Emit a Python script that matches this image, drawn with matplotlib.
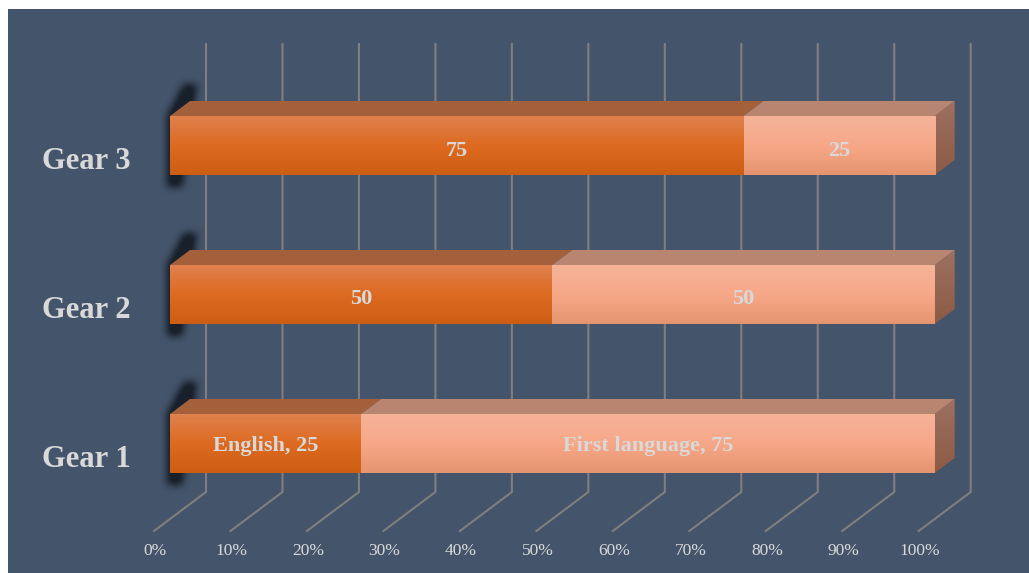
#!/usr/bin/env python3
import numpy as np
import matplotlib
matplotlib.use('Agg')
import matplotlib.pyplot as plt
from matplotlib.colors import LinearSegmentedColormap, to_rgb
from matplotlib.patches import Polygon

categories = ['Gear 1', 'Gear 2', 'Gear 3']
english = [25, 50, 75]
first_language = [75, 50, 25]
series_names = ['English', 'First language']
ticks = [0, 10, 20, 30, 40, 50, 60, 70, 80, 90, 100]

PANEL = '#44546A'
GRID = '#7F7F7F'
TEXT = '#D9D9D9'
DARK_STOPS = ['#E0814F', '#DD6A20', '#CC5E13']
LIGHT_STOPS = ['#F5B398', '#F7A888', '#E5946F']
DARK_TOP = '#A3603B'
LIGHT_TOP = '#B88670'
SIDE_STOPS = ['#9E7060', '#8C5B46']
SERIF = ['Liberation Serif', 'DejaVu Serif']

# scales: px per percent, px per category
PX_X = 7.647
PX_Y = 149.0
BAR_H = 59 / PX_Y
DX = 20 / PX_X
DY = 15 / PX_Y

fig = plt.figure(figsize=(10.29, 5.73), dpi=100, facecolor='white')
ax = fig.add_axes([8 / 1029, 0, 1021 / 1029, 564 / 573])
ax.set_facecolor(PANEL)
xlim = ((8 - 170) / PX_X, (1029 - 170) / PX_X)
ylim = ((443.5 - 573) / PX_Y, (443.5 - 9) / PX_Y)
for s in ax.spines.values():
    s.set_visible(False)
ax.set_xticks([])
ax.set_yticks([])


def gradient(stops, x0, x1, y0, y1, clip=None, z=3):
    cmap = LinearSegmentedColormap.from_list('g', stops)
    im = ax.imshow(np.linspace(0, 1, 128).reshape(-1, 1), cmap=cmap, aspect='auto',
                   extent=(x0, x1, y0, y1), origin='upper', zorder=z, interpolation='bilinear')
    if clip is not None:
        patch = Polygon(clip, closed=True, transform=ax.transData, fc='none', ec='none')
        ax.add_patch(patch)
        im.set_clip_path(patch)
    return im


def blur(a, n):
    k = np.hanning(n)
    k = k / k.sum()
    a = np.apply_along_axis(lambda r: np.convolve(r, k, mode='same'), 0, a)
    return np.apply_along_axis(lambda r: np.convolve(r, k, mode='same'), 1, a)


def shadow(yc):
    # soft dark band behind the left end of the bar
    x0, x1 = -4.0, 7.0
    y0, y1 = yc - 0.55, yc + 0.6
    xs = np.linspace(x0, x1, 84)
    ys = np.linspace(y1, y0, 171)
    xx, yy = np.meshgrid(xs, ys)
    low = yc - 0.28
    high = yc + 0.41
    top = yc + BAR_H / 2
    # vertical edge beside the bar, leaning right above it
    left = -0.35 + np.clip((yy - top) / (high - top), 0, 1) * 2.2
    right = 1.6 + (yy - low) / (high - low) * 1.9
    mask = ((xx > left) & (xx < right) & (yy > low) & (yy < high)).astype(float)
    mask = blur(mask, 21)
    rgba = np.zeros(mask.shape + (4,))
    rgba[..., :3] = to_rgb('#18202B')
    rgba[..., 3] = np.clip(mask * 1.25, 0, 1)
    ax.imshow(rgba, aspect='auto', extent=(x0, x1, y0, y1), origin='upper',
              zorder=2, interpolation='bilinear')


# wall and floor grid
floor_x0 = -16 / PX_X
floor_x1 = 36 / PX_X
floor_y0 = -87.5 / PX_Y
floor_y1 = -48.5 / PX_Y
wall_top = 399.5 / PX_Y
for t in ticks:
    ax.plot([t + floor_x0, t + floor_x1, t + floor_x1], [floor_y0, floor_y1, wall_top],
            color=GRID, lw=1.5, zorder=1, solid_joinstyle='miter')
    ax.text(t + 0.15 + floor_x0, floor_y0 - 20 / PX_Y, f'{t}%', color=TEXT, ha='center', va='center',
            fontsize=12.5, family=SERIF)

for i, cat in enumerate(categories):
    lo, hi = i - BAR_H / 2, i + BAR_H / 2
    shadow(i)
    e, f = english[i], first_language[i]

    side = [(e + f, lo), (e + f + DX, lo + DY), (e + f + DX, hi + DY), (e + f, hi)]
    gradient(SIDE_STOPS, e + f, e + f + DX, lo, hi + DY, clip=side)

    ax.add_patch(Polygon([(0, hi), (DX, hi + DY), (e + DX, hi + DY), (e, hi)],
                         fc=DARK_TOP, ec='none', zorder=3))
    ax.add_patch(Polygon([(e, hi), (e + DX, hi + DY), (e + f + DX, hi + DY), (e + f, hi)],
                         fc=LIGHT_TOP, ec='none', zorder=3))

    gradient(DARK_STOPS, 0, e, lo, hi, z=4)
    gradient(LIGHT_STOPS, e, e + f, lo, hi, z=4)

    if i == 0:
        lab_e = f'{series_names[0]}, {e}'
        lab_f = f'{series_names[1]}, {f}'
        off = 2.5 / PX_Y
    else:
        lab_e, lab_f = str(e), str(f)
        off = 5 / PX_Y
    ax.text(e / 2, i - off, lab_e, color=TEXT, ha='center', va='center', fontsize=16,
            fontweight='bold', family=SERIF, zorder=5)
    ax.text(e + f / 2, i - off, lab_f, color=TEXT, ha='center', va='center', fontsize=16,
            fontweight='bold', family=SERIF, zorder=5)
    ax.text(-39 / PX_X, i - 16 / PX_Y, cat, color=TEXT, ha='right', va='center', fontsize=22,
            fontweight='bold', family=SERIF, zorder=5)

ax.set_xlim(*xlim)
ax.set_ylim(*ylim)
fig.savefig('out.png', dpi=100, facecolor='white')
